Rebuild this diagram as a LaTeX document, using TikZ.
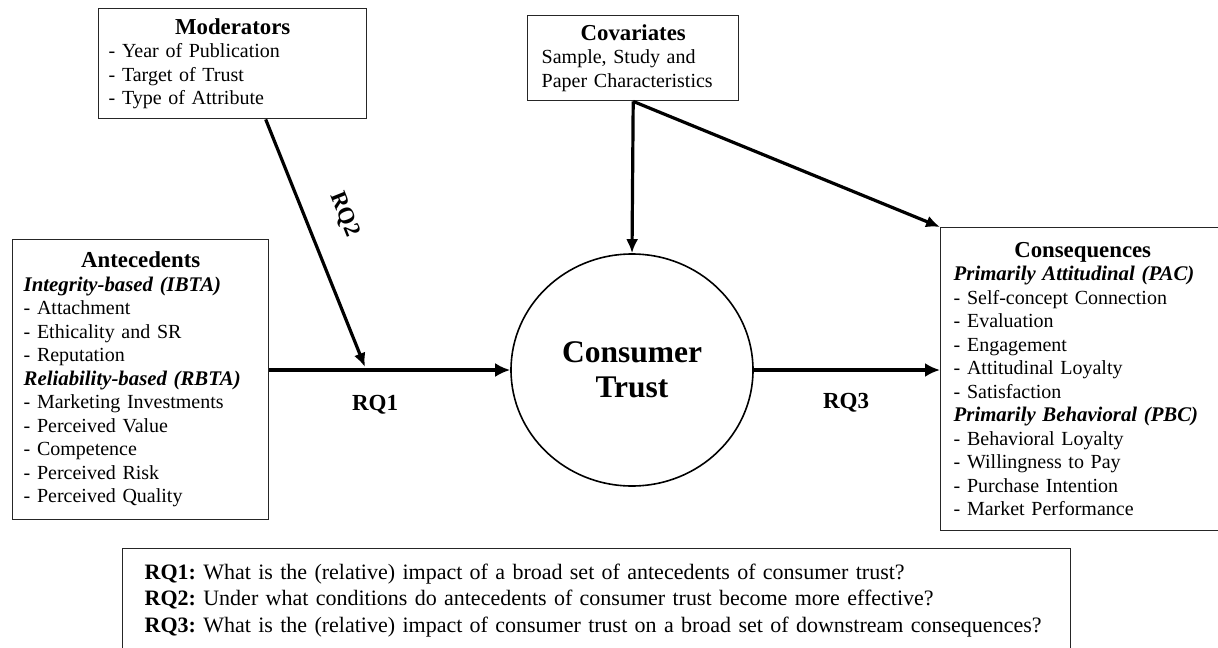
\documentclass[tikz,border=0pt]{standalone}
\usepackage{amsmath}
\usepackage{fontspec}
\setmainfont{Liberation Serif}
\usepackage{tikz}
\usetikzlibrary{arrows.meta,shapes.geometric}
\frenchspacing

\newcommand{\boxtitle}[1]{{\centering\fontsize{11.4}{11.75}\selectfont\bfseries #1\par}}
\newcommand{\subhead}[1]{{\fontsize{10.4}{11.75}\selectfont\bfseries\itshape #1}}

\tikzset{
    box/.style={draw=black!85, line width=0.7pt, anchor=north west, align=left,
        inner ysep=0pt, font=\fontsize{10}{11.75}\selectfont},
    flow/.style={line width=2pt, -{Latex[length=7.5pt,width=7pt]}},
    link/.style={line width=1.6pt, -{Latex[length=7pt,width=6pt]}},
    rqlabel/.style={font=\fontsize{11.5}{13}\selectfont\bfseries}
}

\begin{document}
\begin{tikzpicture}[x=0.5pt,y=-0.5pt]
            \useasboundingbox (0,0) rectangle (1218,647);

            \node[box, inner xsep=5pt, text width=124pt, minimum height=55pt] (mod) at (98,8)
                {\boxtitle{Moderators}
                 - Year of Publication\\
                 - Target of Trust\\
                 - Type of Attribute};
            \node[box, inner xsep=7pt, text width=91.5pt, minimum height=42.5pt] (cov) at (527,15)
                {\boxtitle{Covariates}
                 Sample, Study and\\
                 Paper Characteristics};
            \node[box, inner xsep=5.5pt, text width=117pt, minimum height=140pt] (ante) at (12,239)
                {\boxtitle{Antecedents}
                 \subhead{Integrity-based (IBTA)}\\
                 - Attachment\\
                 - Ethicality and SR\\
                 - Reputation\\
                 \subhead{Reliability-based (RBTA)}\\
                 - Marketing Investments\\
                 - Perceived Value\\
                 - Competence\\
                 - Perceived Risk\\
                 - Perceived Quality};
            \node[box, inner xsep=6.5pt, text width=129pt, minimum height=151.5pt] (cons) at (940,227)
                {\boxtitle{Consequences}
                 \subhead{Primarily Attitudinal (PAC)}\\
                 - Self-concept Connection\\
                 - Evaluation\\
                 - Engagement\\
                 - Attitudinal Loyalty\\
                 - Satisfaction\\
                 \subhead{Primarily Behavioral (PBC)}\\
                 - Behavioral Loyalty\\
                 - Willingness to Pay\\
                 - Purchase Intention\\
                 - Market Performance};

            \node[draw, ellipse, line width=0.8pt, minimum width=121pt, minimum height=116pt,
                align=center, font=\fontsize{15.75}{17.5}\selectfont\bfseries] (trust) at (632,370)
                {Consumer\\Trust};

             %research questions
            \node[box, inner xsep=11pt, inner ysep=7.5pt, text width=452pt,
                font=\fontsize{11}{13.25}\selectfont] (rqs) at (122,548)
                {\textbf{RQ1:} What is the (relative) impact of a broad set of antecedents of consumer trust?\\
                 \textbf{RQ2:} Under what conditions do antecedents of consumer trust become more effective?\\
                 \textbf{RQ3:} What is the (relative) impact of consumer trust on a broad set of downstream consequences?\rule[-30pt]{0pt}{0pt}};

             %arrows
            \draw[flow] (ante.east |- trust.west) -- (trust.west);
            \draw[flow] (trust.east) -- (cons.west |- trust.east);
            \node[rqlabel] (rq1) at (375,405) {RQ1};
            \node[rqlabel] (rq3) at (846,403) {RQ3};

            \coordinate (rq2tip) at (365,367);
            \draw[link] ([xshift=16.5pt]mod.south) -- node[rqlabel, sloped, above=10pt, pos=0.44] (rq2) {RQ2} (rq2tip);

            \draw[link] (cov.south) -- (trust.north);
            \draw[link] (cov.south) -- (cons.north west);
\end{tikzpicture}
\end{document}
